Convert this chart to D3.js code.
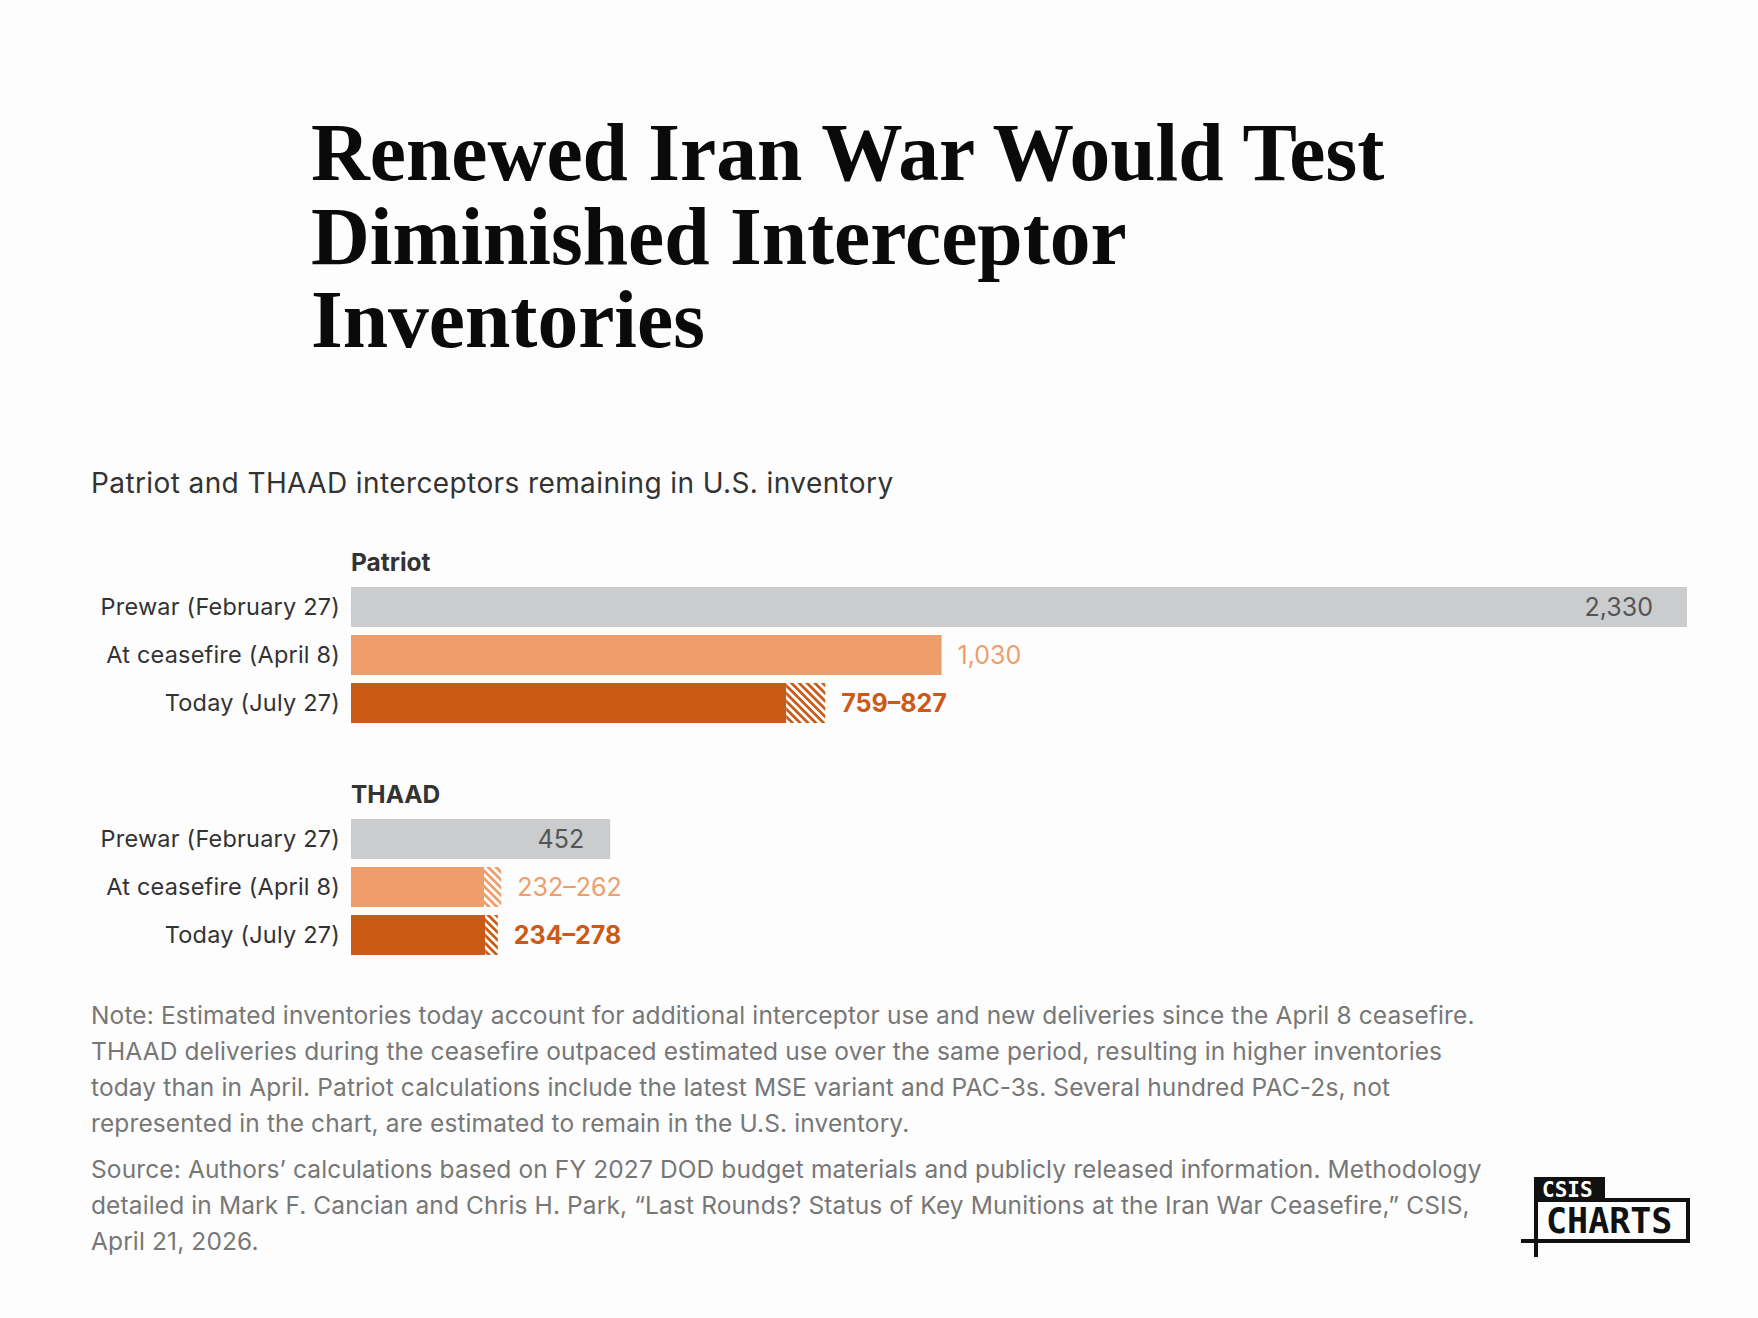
<!DOCTYPE html>
<html>
<head>
<meta charset="utf-8">
<script src="https://cdn.jsdelivr.net/npm/d3@7"></script>
<style>
	body { margin: 0; background: #fdfdfd; }
	svg { display: block; }
</style>
</head>
<body>
<svg id="chart" width="1758" height="1318"></svg>
<script>
//chart data
var systems = ['Patriot', 'THAAD'];
var periods = ['Prewar (February 27)', 'At ceasefire (April 8)', 'Today (July 27)'];
var patriotLow = [2330, 1030, 759];
var patriotHigh = [2330, 1030, 827];
var patriotLabels = ['2,330', '1,030', '759–827'];
var thaadLow = [452, 232, 234];
var thaadHigh = [452, 262, 256];
var thaadLabels = ['452', '232–262', '234–278'];

var titleLines = ['Renewed Iran War Would Test', 'Diminished Interceptor', 'Inventories'];
var subtitle = 'Patriot and THAAD interceptors remaining in U.S. inventory';
var noteLines = [
	'Note: Estimated inventories today account for additional interceptor use and new deliveries since the April 8 ceasefire.',
	'THAAD deliveries during the ceasefire outpaced estimated use over the same period, resulting in higher inventories',
	'today than in April. Patriot calculations include the latest MSE variant and PAC-3s. Several hundred PAC-2s, not',
	'represented in the chart, are estimated to remain in the U.S. inventory.'
];
var sourceLines = [
	'Source: Authors’ calculations based on FY 2027 DOD budget materials and publicly released information. Methodology',
	'detailed in Mark F. Cancian and Chris H. Park, “Last Rounds? Status of Key Munitions at the Iran War Ceasefire,” CSIS,',
	'April 21, 2026.'
];

var colors = ['#cbcccd', '#ef9e6b', '#cc5a17'];
var labelColors = ['#555555', '#ef9e6b', '#cc5a17'];
var sans = 'Inter, "Noto Sans", sans-serif';

drawChart();

function drawChart() {
	var svg = d3.select('#chart');

	//build rows from the arrays
	var groups = systems.map(function(s, gi) {
		var low = gi == 0 ? patriotLow : thaadLow;
		var high = gi == 0 ? patriotHigh : thaadHigh;
		var labels = gi == 0 ? patriotLabels : thaadLabels;
		return {
			name: s,
			rows: periods.map(function(p, i) {
				return {period: p, idx: i, low: low[i], high: high[i], label: labels[i]};
			})
		};
	});

	//scales
	var x = d3.scaleLinear()
				.domain([0, d3.max(patriotHigh.concat(thaadHigh))])
				.range([351, 1687]);
	var groupTop = d3.scalePoint().domain(systems).range([587, 819]);
	var y = d3.scaleBand().domain(periods).range([0, 136]).paddingInner(8/48);

	//hatch patterns
	var defs = svg.append('defs');
	[1, 2].forEach(function(i) {
		var pat = defs.append('pattern')
					.attr('id', 'hatch' + i)
					.attr('patternUnits', 'userSpaceOnUse')
					.attr('width', 5.5)
					.attr('height', 5.5)
					.attr('patternTransform', 'rotate(-45)');
		pat.append('rect').attr('width', 5.5).attr('height', 5.5).attr('fill', colors[i]);
		pat.append('rect').attr('width', 2.75).attr('height', 5.5).attr('fill', '#fdfdfd');
	});

	//title
	svg.append('text')
		.attr('x', 311)
		.attr('y', 180)
		.style('font-family', '"Liberation Serif", "Times New Roman", serif')
		.style('font-weight', 'bold')
		.style('font-size', '81.5px')
		.style('fill', '#0a0a0a')
		.selectAll('tspan')
		.data(titleLines)
		.join('tspan')
			.attr('x', 311)
			.attr('dy', (d, i) => i == 0 ? 0 : 83.5)
			.text(d => d);

	//subtitle
	svg.append('text')
		.attr('x', 91)
		.attr('y', 493)
		.style('font-family', sans)
		.style('font-size', '28px')
		.style('letter-spacing', '0.4px')
		.style('fill', '#333')
		.text(subtitle);

	var g = svg.selectAll('g.group')
				.data(groups)
				.join('g')
					.attr('class', 'group')
					.attr('transform', d => 'translate(0,' + groupTop(d.name) + ')');

	//group header
	g.append('text')
		.attr('x', 351)
		.attr('y', -16)
		.style('font-family', sans)
		.style('font-weight', 'bold')
		.style('font-size', '24.5px')
		.style('fill', '#333')
		.text(d => d.name);

	var row = g.selectAll('g.row')
				.data(d => d.rows)
				.join('g')
					.attr('class', 'row')
					.attr('transform', d => 'translate(0,' + y(d.period) + ')');

	//row labels
	row.append('text')
		.attr('x', 340)
		.attr('y', y.bandwidth() / 2)
		.attr('dy', '0.36em')
		.attr('text-anchor', 'end')
		.style('font-family', sans)
		.style('font-size', '23.5px')
		.style('letter-spacing', '0.2px')
		.style('fill', '#333')
		.text(d => d.period);

	//solid part
	row.append('rect')
		.attr('x', x(0))
		.attr('width', d => x(d.low) - x(0))
		.attr('height', y.bandwidth())
		.attr('fill', d => colors[d.idx]);

	//uncertainty range
	row.filter(d => d.high > d.low)
		.append('rect')
		.attr('x', d => x(d.low))
		.attr('width', d => x(d.high) - x(d.low))
		.attr('height', y.bandwidth())
		.attr('fill', d => 'url(#hatch' + d.idx + ')');

	//value labels
	row.append('text')
		.attr('x', d => d.idx == 0 ? x(d.high) - (d.high > 1000 ? 34 : 26) : x(d.high) + 16)
		.attr('y', y.bandwidth() / 2)
		.attr('dy', '0.36em')
		.attr('text-anchor', d => d.idx == 0 ? 'end' : 'start')
		.style('font-family', sans)
		.style('font-size', '25px')
		.style('font-weight', d => d.idx == 2 ? 'bold' : 'normal')
		.style('fill', d => labelColors[d.idx])
		.style('stroke', d => d.idx == 0 ? 'none' : '#fdfdfd')
		.style('stroke-width', '5px')
		.style('paint-order', 'stroke')
		.text(d => d.label);

	//note and source
	var foot = svg.append('text')
				.style('font-family', sans)
				.style('font-size', '24.5px')
				.style('letter-spacing', '0.12px')
				.style('fill', '#777');
	foot.selectAll('tspan')
		.data(noteLines.concat(sourceLines))
		.join('tspan')
			.attr('x', 91)
			.attr('y', (d, i) => 1024 + i * 36 + (i >= noteLines.length ? 10 : 0))
			.text(d => d);

	drawLogo(svg);
}

function drawLogo(svg) {
	var logo = svg.append('g').attr('id', 'logo');
	logo.append('rect')
		.attr('x', 1534).attr('y', 1177)
		.attr('width', 71).attr('height', 23)
		.attr('fill', '#111');
	logo.append('text')
		.attr('x', 1542).attr('y', 1197)
		.style('font-family', '"DejaVu Sans Mono", monospace')
		.style('font-weight', 'bold')
		.style('font-size', '21px')
		.style('fill', '#fff')
		.text('CSIS');
	logo.append('rect')
		.attr('x', 1536).attr('y', 1200)
		.attr('width', 152).attr('height', 41)
		.attr('fill', 'none')
		.attr('stroke', '#111')
		.attr('stroke-width', 4);
	logo.append('text')
		.attr('x', 1546).attr('y', 1233)
		.style('font-family', '"DejaVu Sans Mono", monospace')
		.style('font-weight', 'bold')
		.style('font-size', '35px')
		.style('fill', '#111')
		.text('CHARTS');
	logo.append('line')
		.attr('x1', 1521).attr('x2', 1538)
		.attr('y1', 1241).attr('y2', 1241)
		.attr('stroke', '#111').attr('stroke-width', 4);
	logo.append('line')
		.attr('x1', 1536).attr('x2', 1536)
		.attr('y1', 1239).attr('y2', 1257)
		.attr('stroke', '#111').attr('stroke-width', 4);
}
</script>
</body>
</html>
